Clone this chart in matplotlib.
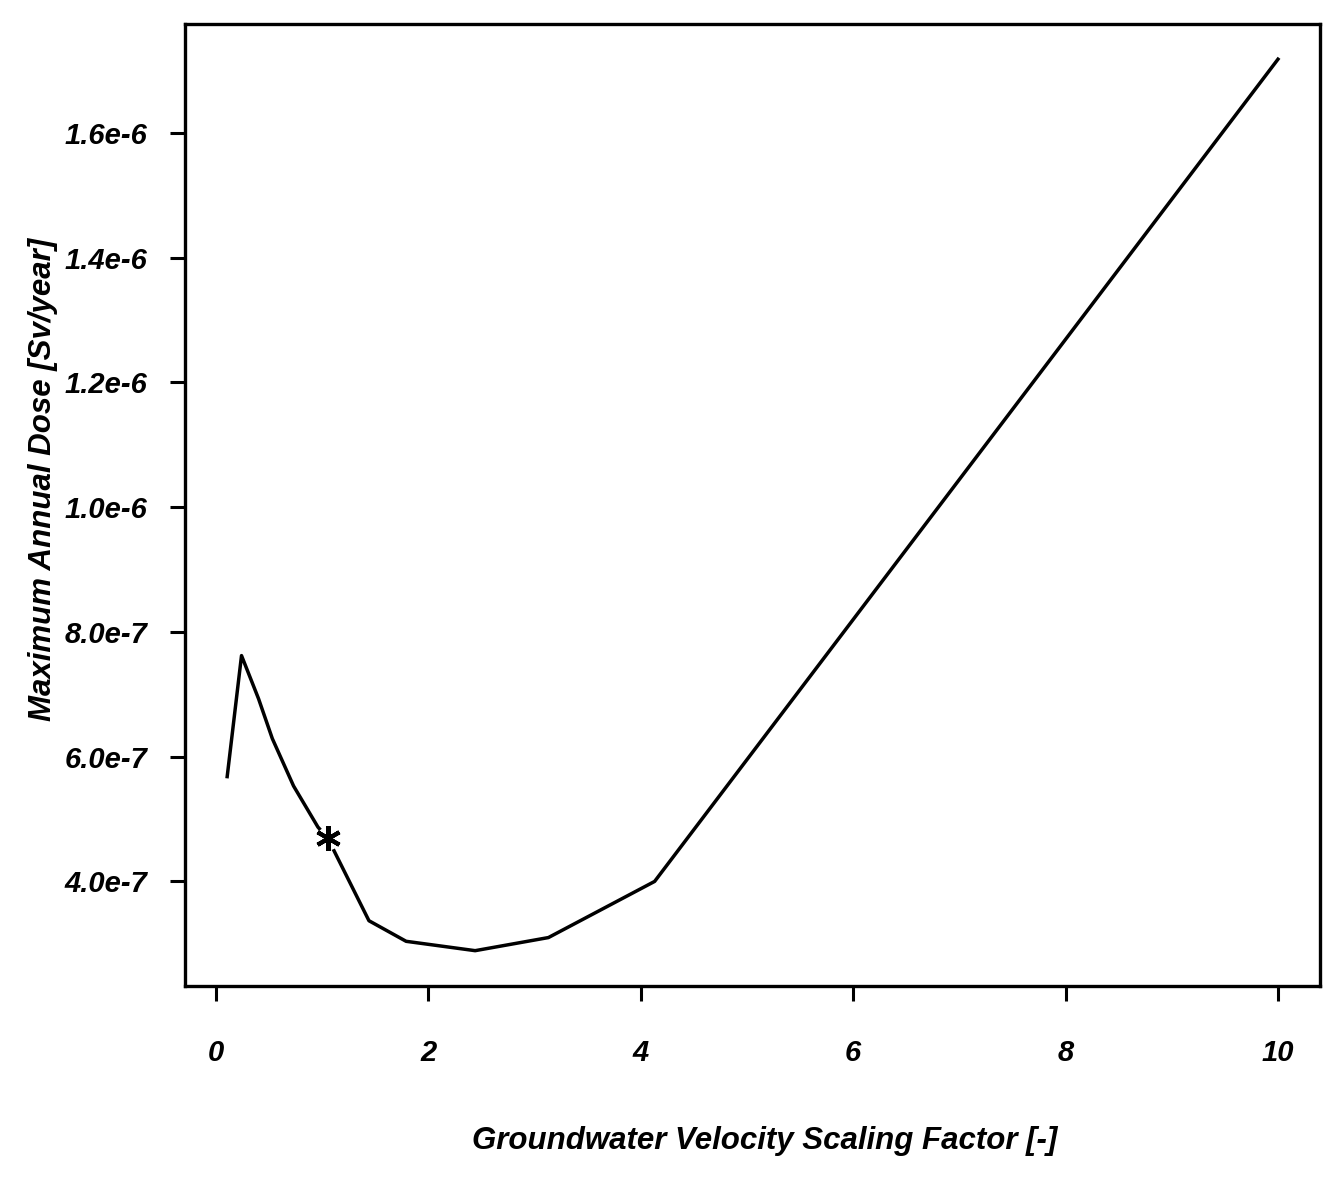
"""Dose maximale annuelle en fonction du facteur de vitesse de l'eau souterraine."""
import matplotlib
import matplotlib.pyplot as plt

matplotlib.use("Agg")  # pas d'affichage

plt.rcParams["font.family"] = ["Liberation Sans Narrow", "Liberation Sans", "DejaVu Sans"]
plt.rcParams["font.weight"] = "bold"
plt.rcParams["font.style"] = "italic"
plt.rcParams["axes.labelweight"] = "bold"

# Valeurs
VELOCITY = [0.105, 0.24, 0.40, 0.53, 0.73, 0.96, 1.05, 1.44, 1.79, 2.44, 3.13, 4.13, 10.0]
DOSE = [5.68e-7, 7.62e-7, 6.93e-7, 6.29e-7, 5.53e-7, 4.87e-7, 4.70e-7,
        3.37e-7, 3.04e-7, 2.89e-7, 3.10e-7, 4.00e-7, 1.718e-6]
REF_VELOCITY, REF_DOSE = 1.05, 4.70e-7  # cas de référence (étoile)

X_TICKS = [0, 2, 4, 6, 8, 10]
X_LABELS = ["0", "2", "4", "6", "8", "10"]
Y_TICKS = [4e-7, 6e-7, 8e-7, 1.0e-6, 1.2e-6, 1.4e-6, 1.6e-6]
Y_LABELS = ["4.0e-7", "6.0e-7", "8.0e-7", "1.0e-6", "1.2e-6", "1.4e-6", "1.6e-6"]

fig = plt.figure(figsize=(13.32, 11.77), dpi=100)
ax = fig.add_axes([0.139, 0.162, 0.852, 0.818])

ax.plot(VELOCITY, DOSE, color="black", lw=2.5, zorder=2)
# petit blanc autour de l'étoile, comme sur l'original
ax.plot(REF_VELOCITY, REF_DOSE, "o", ms=17, mfc="white", mec="none", zorder=3)
ax.plot(REF_VELOCITY, REF_DOSE, marker=(6, 2, 0), ms=18, mew=3, color="black", zorder=4)

ax.margins(x=0.04, y=0.04)
ax.set_xticks(X_TICKS, X_LABELS)
ax.set_yticks(Y_TICKS, Y_LABELS)
ax.tick_params(direction="out", length=11, width=2.2, labelsize=21, color="black")
ax.tick_params(axis="x", pad=27)
ax.tick_params(axis="y", pad=16)
for spine in ax.spines.values():
	spine.set_linewidth(2.4)

ax.set_xlabel("Groundwater Velocity Scaling Factor [-]", fontsize=22.5)
ax.xaxis.set_label_coords(0.511, -0.145)
ax.set_ylabel("Maximum Annual Dose [Sv/year]", fontsize=22.5)
ax.yaxis.set_label_coords(-0.112, 0.527)

fig.savefig("out.png", dpi=100)
plt.close(fig)
